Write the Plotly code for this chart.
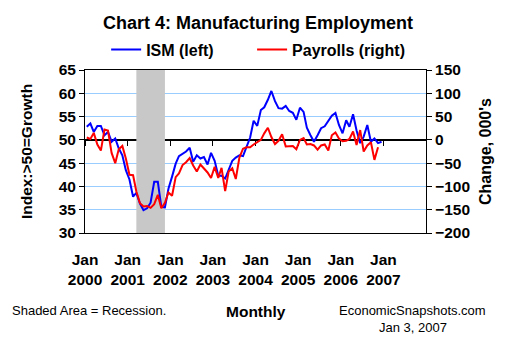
import pandas as pd
import plotly.graph_objects as go

# Monthly observations, Jan 2000 - Dec 2006
months = pd.date_range("2000-01-01", periods=84, freq="MS")

# ISM manufacturing employment index (left axis)
ism = [
    52.8, 53.5, 51.7, 53.0, 53.0, 51.0, 51.7, 49.6, 50.3, 48.2, 46.7, 43.5,
    41.5, 37.8, 38.6, 36.3, 34.9, 35.3, 36.5, 41.0, 41.0, 35.6, 35.5, 39.5,
    42.1, 44.9, 46.5, 47.0, 47.5, 48.3, 45.3, 46.7, 46.0, 46.3, 44.7, 47.2,
    45.5, 42.3, 42.3, 41.7, 43.6, 45.5, 46.2, 46.7, 46.5, 48.5, 50.5, 54.1,
    53.0, 56.4, 57.0, 58.6, 60.5, 58.3, 56.8, 56.7, 57.3, 56.2, 55.8, 54.3,
    56.9, 56.0, 52.6, 51.0, 49.6, 51.0, 52.5, 52.9, 54.0, 55.2, 55.8, 53.2,
    51.4, 54.2, 52.8, 55.5, 52.0, 49.3, 50.7, 53.2, 49.6, 50.3, 49.3, 49.6,
]

# Manufacturing payroll change, thousands (right axis), through Nov 2006
payrolls = [
    5, 2, 15, -10, -23, 22, 20, -28, -50, -20, -13, -40,
    -75, -76, -111, -136, -143, -142, -146, -138, -118, -147, -135, -113,
    -120, -80, -72, -54, -48, -39, -55, -68, -53, -62, -70, -82,
    -58, -82, -60, -110, -68, -61, -84, -38, -19, -16, -16, -10,
    -5, 0, 14, 26, 6, -9, -2, 12, -14, -14, -13, -20,
    0, 4, -10, -9, -12, -21, -12, -10, -23, 10, 16, 3,
    -3, -2, 2, 18, -11, 21, -25, -12, -5, -43, -16,
]

# NBER recession, Mar 2001 - Nov 2001
recession = ("2001-03-01", "2001-11-01")

years = list(range(2000, 2008))
tick_labels = [f"Jan<br>{y}" for y in years]

left_range = [30, 65]
right_range = [-200, 150]
x_range = ["2000-01-01", "2008-01-01"]

FONT = "Arial, Liberation Sans, sans-serif"
half_month = pd.Timedelta(days=15)
x_mid = months + half_month
rec_x0 = pd.Timestamp(recession[0]) + half_month
rec_x1 = pd.Timestamp(recession[1]) + half_month
tick_dates = [f"{y}-01-01" for y in years]

fig = go.Figure()

# Recession shading
fig.add_trace(go.Scatter(
    x=[rec_x0, rec_x0, rec_x1, rec_x1], y=[left_range[0], left_range[1], left_range[1], left_range[0]],
    fill="toself", fillcolor="#C8C8C8", mode="lines", line=dict(width=0),
    showlegend=False, hoverinfo="skip",
))

fig.add_trace(go.Scatter(
    x=x_mid, y=ism, name="ISM (left)", mode="lines",
    line=dict(color="#0000FF", width=2), legend="legend",
))
fig.add_trace(go.Scatter(
    x=x_mid[:len(payrolls)], y=payrolls, name="Payrolls (right)", mode="lines",
    line=dict(color="#FF0000", width=2), yaxis="y2", legend="legend2",
))
# carrier for the axis line through 50 / 0
fig.add_trace(go.Scatter(x=[], y=[], xaxis="x2", showlegend=False, hoverinfo="skip"))

bold = dict(family=FONT, size=15.5, color="black", weight="bold")
legend_style = dict(
    orientation="h", xanchor="left", y=1.125, yanchor="middle",
    font=dict(family=FONT, size=16, color="black", weight="bold"),
    bgcolor="rgba(0,0,0,0)", itemclick=False,
)

fig.update_layout(
    width=510, height=350,
    margin=dict(l=85, r=84, t=70, b=117),
    paper_bgcolor="white", plot_bgcolor="white",
    title=dict(
        text="Chart 4: Manufacturing Employment",
        font=dict(family=FONT, size=18, color="black", weight="bold"),
        x=0.506, xanchor="center", y=1 - 23 / 350, yanchor="middle", yref="container",
    ),
    legend=dict(x=0.062, **legend_style),
    legend2=dict(x=0.49, **legend_style),
    xaxis=dict(
        type="date", range=x_range, tickvals=tick_dates, ticktext=tick_labels,
        ticks="", showgrid=False, showline=True, mirror=True,
        linecolor="black", linewidth=1, tickfont=bold, ticklabelstandoff=12,
        zeroline=False,
    ),
    xaxis2=dict(
        type="date", range=x_range, overlaying="x", anchor="free",
        position=(50 - left_range[0]) / (left_range[1] - left_range[0]),
        tickvals=tick_dates, showticklabels=False, ticks="outside", ticklen=5,
        tickcolor="black", tickwidth=1, showline=True, linecolor="black",
        linewidth=1.5, showgrid=False, zeroline=False, layer="below traces",
    ),
    yaxis=dict(
        range=left_range, dtick=5, showgrid=True, gridcolor="#99CCFF", gridwidth=1,
        showline=True, linecolor="black", linewidth=1, ticks="outside", ticklen=5,
        tickcolor="black", tickfont=bold, zeroline=False,
        title=dict(text="Index:>50=Growth", font=dict(family=FONT, size=15.5, color="black", weight="bold"), standoff=22),
    ),
    yaxis2=dict(
        range=right_range, dtick=50, overlaying="y", side="right", showgrid=False,
        showline=True, linecolor="black", linewidth=1, ticks="outside", ticklen=5,
        tickcolor="black", tickfont=bold, zeroline=False,
        title=dict(text="Change, 000's", font=dict(family=FONT, size=16, color="black", weight="bold"), standoff=10),
    ),
)

L, R = 85, 426
T, B = 70, 233
def px(x):
    return (x - L) / (R - L)
def py(y):
    return (B - y) / (B - T)

notes = [
    dict(text="Shaded Area = Recession.", x=px(10), y=py(310), xanchor="left", size=13, weight="normal"),
    dict(text="Monthly", x=px(256), y=py(311), xanchor="center", size=15.5, weight="bold"),
    dict(text="EconomicSnapshots.com", x=px(412.5), y=py(310), xanchor="center", size=13, weight="normal"),
    dict(text="Jan 3, 2007", x=px(412.5), y=py(327), xanchor="center", size=13, weight="normal"),
]
for n in notes:
    fig.add_annotation(
        text=n["text"], xref="paper", yref="paper", x=n["x"], y=n["y"],
        xanchor=n["xanchor"], yanchor="middle", showarrow=False,
        font=dict(family=FONT, size=n["size"], color="black", weight=n["weight"]),
    )

fig.write_html("out.html")
